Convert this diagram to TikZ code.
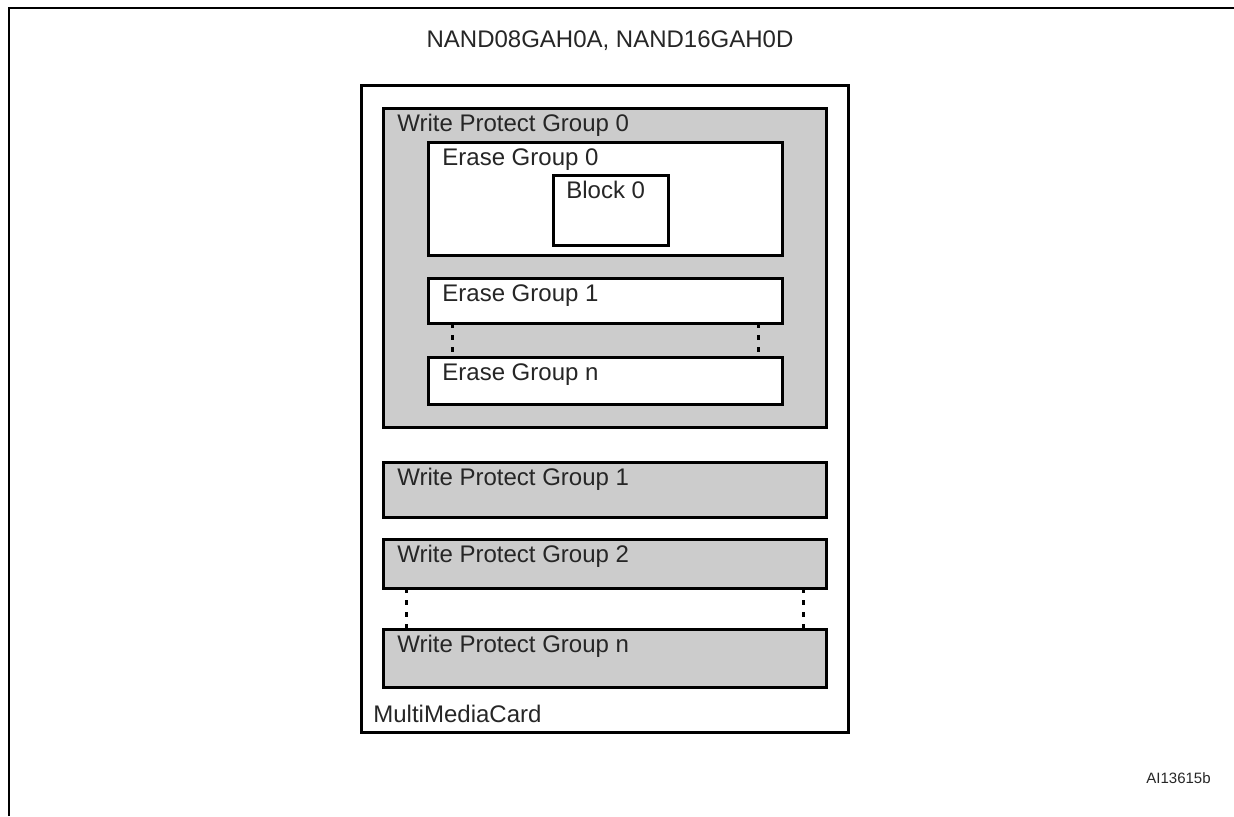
\documentclass[tikz,border=0pt]{standalone}
\usepackage{fontspec}
\setmainfont{Liberation Sans}
\usetikzlibrary{positioning}
\definecolor{wpgray}{gray}{0.8}

\begin{document}
\begin{tikzpicture}[
        x=0.5pt, y=-0.5pt,
        every node/.style={font=\fontsize{12}{14}\selectfont},
        box/.style={rectangle, draw=black, line width=1.5pt, anchor=north west, outer sep=0pt, inner sep=0pt},
        wpbox/.style={box, fill=wpgray},
        egbox/.style={box, fill=white},
        tag/.style={anchor=base west, inner sep=0pt, text=black!85},
        dotline/.style={line width=1.5pt, dash pattern=on 2.5pt off 3.5pt},
        frame/.style={line width=1.3pt}
    ]
    \useasboundingbox (0,0) rectangle (1234,816);

    % --- Frame ---
    \draw[frame] (9,816) |- (1234,8);

    % --- Card and groups ---
    \node[box, minimum width=243.5pt, minimum height=323.5pt] (mmc) at (361,85) {};
    \node[wpbox, minimum width=221.5pt, minimum height=159.5pt] (wpg0) at (383,108) {};
    \node[egbox, minimum width=177pt, minimum height=56.5pt] (eg0) at (428,142) {};
    \node[egbox, minimum width=57.5pt, minimum height=35pt] (blk0) at (553,175) {};
    \node[egbox, minimum width=177pt, minimum height=22.5pt] (eg1) at (428,278) {};
    \node[egbox, minimum width=177pt, minimum height=23.5pt] (egn) at (428,357) {};
    \node[wpbox, minimum width=221.5pt, minimum height=27.5pt] (wpg1) at (383,462) {};
    \node[wpbox, minimum width=221.5pt, minimum height=24.5pt] (wpg2) at (383,539) {};
    \node[wpbox, minimum width=221.5pt, minimum height=29pt] (wpgn) at (383,629) {};

    % --- Labels ---
    \node[tag] (wpg0_t) at ([xshift=7pt, yshift=-11.5pt]wpg0.north west) {Write Protect Group 0};
    \node[tag] (eg0_t) at ([xshift=7pt, yshift=-11.5pt]eg0.north west) {Erase Group 0};
    \node[tag] (blk0_t) at ([xshift=6.5pt, yshift=-11.5pt]blk0.north west) {Block 0};
    \node[tag] (eg1_t) at ([xshift=7pt, yshift=-11.5pt]eg1.north west) {Erase Group 1};
    \node[tag] (egn_t) at ([xshift=7pt, yshift=-11.5pt]egn.north west) {Erase Group n};
    \node[tag] (wpg1_t) at ([xshift=7pt, yshift=-11.5pt]wpg1.north west) {Write Protect Group 1};
    \node[tag] (wpg2_t) at ([xshift=7pt, yshift=-11.5pt]wpg2.north west) {Write Protect Group 2};
    \node[tag] (wpgn_t) at ([xshift=7pt, yshift=-11.5pt]wpgn.north west) {Write Protect Group n};
    \node[tag] (mmc_t) at ([xshift=6pt, yshift=5pt]mmc.south west) {MultiMediaCard};

    \node[anchor=base, inner sep=0pt, text=black!85] (title) at (610,47) {NAND08GAH0A, NAND16GAH0D};
    \node[anchor=base east, inner sep=0pt, text=black!85, font=\fontsize{7.5}{9}\selectfont] (code) at (1211,783) {AI13615b};

    % --- Continuation dots ---
    \draw[dotline] ([xshift=12pt]eg1.south west) -- ([xshift=12pt]egn.north west);
    \draw[dotline] ([xshift=-12pt]eg1.south east) -- ([xshift=-12pt]egn.north east);
    \draw[dotline] ([xshift=11.5pt]wpg2.south west) -- ([xshift=11.5pt]wpgn.north west);
    \draw[dotline] ([xshift=-11.5pt]wpg2.south east) -- ([xshift=-11.5pt]wpgn.north east);

\end{tikzpicture}
\end{document}
